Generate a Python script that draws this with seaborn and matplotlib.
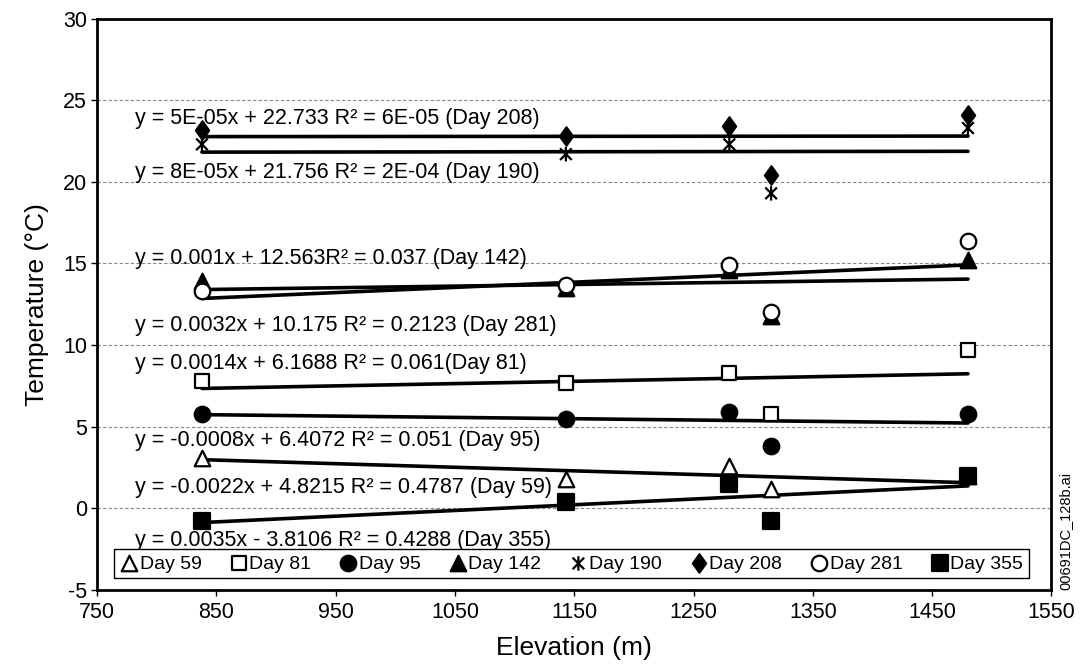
import numpy as np
import pandas as pd
import seaborn as sns
import matplotlib
matplotlib.use("Agg")
import matplotlib.pyplot as plt
from matplotlib.path import Path

# ---------------- data ----------------
elevation = [838, 1143, 1280, 1315, 1480]

day59 = [3.1, 1.8, 2.6, 1.2, 2.0]
day81 = [7.8, 7.7, 8.3, 5.8, 9.7]
day95 = [5.8, 5.5, 5.9, 3.8, 5.8]
day142 = [13.9, 13.5, 14.6, 11.8, 15.2]
day190 = [22.3, 21.7, 22.3, 19.3, 23.3]
day208 = [23.2, 22.8, 23.4, 20.4, 24.1]
day281 = [13.3, 13.7, 14.9, 12.0, 16.4]
day355 = [-0.8, 0.4, 1.5, -0.8, 2.0]

series_names = ["Day 59", "Day 81", "Day 95", "Day 142", "Day 190", "Day 208", "Day 281", "Day 355"]
series_values = [day59, day81, day95, day142, day190, day208, day281, day355]

# trendline coefficients (from the equations on the chart)
slopes = [-0.0022, 0.0014, -0.0008, 0.001, 8e-05, 5e-05, 0.0032, 0.0035]
intercepts = [4.8215, 6.1688, 6.4072, 12.563, 21.756, 22.733, 10.175, -3.8106]

equation_labels = [
    "y = -0.0022x + 4.8215 R² = 0.4787 (Day 59)",
    "y = 0.0014x + 6.1688 R² = 0.061(Day 81)",
    "y = -0.0008x + 6.4072 R² = 0.051 (Day 95)",
    "y = 0.001x + 12.563R² = 0.037 (Day 142)",
    "y = 8E-05x + 21.756 R² = 2E-04 (Day 190)",
    "y = 5E-05x + 22.733 R² = 6E-05 (Day 208)",
    "y = 0.0032x + 10.175 R² = 0.2123 (Day 281)",
    "y = 0.0035x - 3.8106 R² = 0.4288 (Day 355)",
]
label_y = [1.3, 8.9, 4.15, 15.3, 20.6, 23.9, 11.2, -2.0]

x_ticks = list(range(750, 1551, 100))
y_ticks = list(range(-5, 31, 5))

# ---------------- style ----------------
sns.set_theme(style="white")
plt.rcParams["font.family"] = ["Liberation Sans", "DejaVu Sans"]
plt.rcParams["axes.unicode_minus"] = False
plt.rcParams["text.color"] = "black"
plt.rcParams["axes.labelcolor"] = "black"
plt.rcParams["xtick.color"] = "black"
plt.rcParams["ytick.color"] = "black"

asterisk = Path(
    [(-1, -1), (1, 1), (-1, 1), (1, -1), (0, -1.25), (0, 1.25)],
    [Path.MOVETO, Path.LINETO, Path.MOVETO, Path.LINETO, Path.MOVETO, Path.LINETO],
)
diamond = Path(
    [(0, -1), (0.72, 0), (0, 1), (-0.72, 0), (0, -1)],
    [Path.MOVETO, Path.LINETO, Path.LINETO, Path.LINETO, Path.CLOSEPOLY],
)

marker_spec = {
    "Day 59": dict(marker="^", facecolor="white", s=125),
    "Day 81": dict(marker="s", facecolor="white", s=115),
    "Day 95": dict(marker="o", facecolor="black", s=125),
    "Day 142": dict(marker="^", facecolor="black", s=125),
    "Day 190": dict(marker=asterisk, facecolor="none", s=110),
    "Day 208": dict(marker=diamond, facecolor="black", s=175),
    "Day 281": dict(marker="o", facecolor="white", s=125),
    "Day 355": dict(marker="s", facecolor="black", s=135),
}

fig = plt.figure(figsize=(10.81, 6.68), dpi=100)
ax = fig.add_axes([0.0897, 0.117, 0.883, 0.855])

# trendlines
x0, x1 = min(elevation), max(elevation)
for name, m, b in zip(series_names, slopes, intercepts):
    line_df = pd.DataFrame({"x": [x0, x1], "y": [m * x0 + b, m * x1 + b]})
    sns.lineplot(data=line_df, x="x", y="y", color="black", linewidth=2.6, ax=ax, zorder=2)

# markers
for name, vals in zip(series_names, series_values):
    spec = marker_spec[name]
    df = pd.DataFrame({"Elevation": elevation, "Temp": vals})
    sns.scatterplot(
        data=df, x="Elevation", y="Temp", ax=ax,
        marker=spec["marker"], s=spec["s"],
        facecolor=spec["facecolor"], edgecolor="black", linewidth=1.6,
        label=name, zorder=3,
    )

# equation labels
for txt, yy in zip(equation_labels, label_y):
    ax.text(782, yy, txt, fontsize=15.5, ha="left", va="center", zorder=4)

ax.set_xlim(750, 1550)
ax.set_ylim(-5, 30)
ax.set_xticks(x_ticks)
ax.set_yticks(y_ticks)
ax.tick_params(axis="both", labelsize=15.5, direction="out", length=4, width=1,
               bottom=True, left=True, colors="black")
ax.tick_params(axis="x", pad=5)
ax.tick_params(axis="y", pad=3)
ax.yaxis.grid(True, linestyle=(0, (3, 2)), color="#888888", linewidth=0.8)
ax.xaxis.grid(False)
for sp in ax.spines.values():
    sp.set_color("black")
    sp.set_linewidth(2)

ax.set_xlabel("Elevation (m)", fontsize=19, labelpad=9)
ax.set_ylabel("Temperature (°C)", fontsize=19, labelpad=10)

leg = ax.legend(loc="lower center", bbox_to_anchor=(0.497, 0.003), ncol=8, frameon=True,
                fancybox=False, edgecolor="black", framealpha=1, prop={"size": 14},
                handletextpad=0.05, columnspacing=1.4, borderpad=0.3, handlelength=1.0)
leg.get_frame().set_linewidth(1)

fig.text(0.986, 0.117, "00691DC_128b.ai", rotation=90, fontsize=10.5, ha="center", va="bottom")

fig.savefig("out.png", dpi=100)
